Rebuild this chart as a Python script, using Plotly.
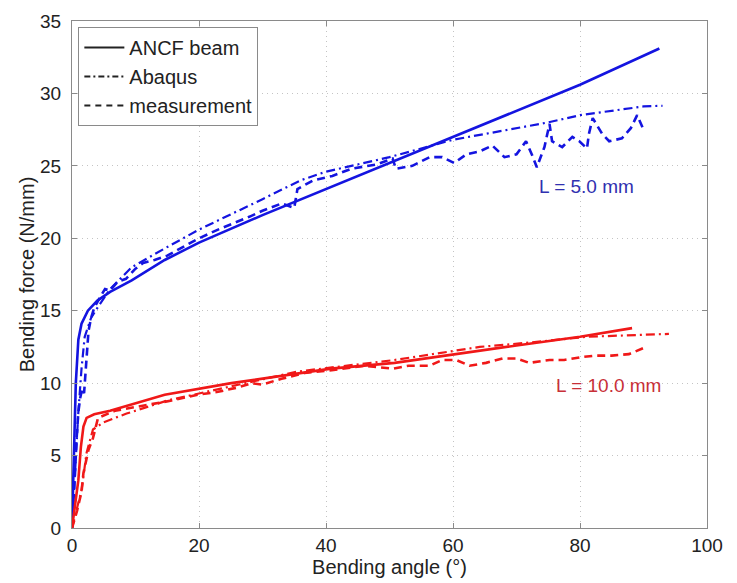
import plotly.graph_objects as go

# ---- L = 5.0 mm (blue) ----
b_ancf_x = [0, 0.3, 0.6, 1.0, 1.5, 2.5, 4.0, 6.0, 9.4, 14.6, 20, 30, 40, 50, 60, 70, 80, 92.5]
b_ancf_y = [0, 5, 10, 13, 14.1, 15.0, 15.7, 16.3, 17.1, 18.5, 19.7, 21.6, 23.4, 25.2, 27.0, 28.8, 30.6, 33.1]

b_abq_x = [0, 0.5, 1.0, 1.5, 2.0, 3.0, 4.0, 6.0, 9.4, 14.6, 20, 30, 36, 40, 50, 60, 70, 75, 80, 85, 90, 93]
b_abq_y = [0, 4, 8, 11, 13.2, 14.5, 15.2, 16.5, 18.0, 19.3, 20.6, 22.7, 24.0, 24.6, 25.6, 26.8, 27.6, 28.0, 28.5, 28.8, 29.1, 29.15]

b_mea_x = [0, 0.3, 0.5, 0.7, 1.0, 1.3, 1.6, 1.9, 2.1, 2.3, 2.6, 3.0, 3.5, 4.5, 5.2, 6.0, 7.2, 8.5, 10, 11.2,
           13, 15, 18, 20, 23, 25.3, 28, 30, 33, 35, 35.5, 38, 41, 44, 48, 50.5, 51, 53.6, 56.3, 58.3,
           60.2, 62.1, 64.2, 66.2, 68.1, 70, 71.5, 72.5, 73.2, 74.4, 75.2, 75.6, 77.2, 78.8, 79.9, 81.1,
           81.4, 82, 83.5, 84.6, 86.6, 88, 89, 90.1]
b_mea_y = [0, 2, 4, 6, 8, 9, 9.6, 9.3, 10.5, 12, 13.6, 14.5, 15.2, 16.0, 16.5, 16.4, 17.0, 17.2, 17.9, 18.3,
           18.5, 18.8, 19.5, 20.0, 20.6, 21.0, 21.5, 21.9, 22.4, 22.1, 23.4, 24.0, 24.3, 24.8, 25.1, 25.5, 24.8, 25.0, 25.6, 25.6,
           25.2, 25.8, 26.0, 26.4, 25.6, 25.8, 26.7, 25.7, 24.9, 26.3, 27.9, 26.7, 26.3, 27.0, 26.7, 26.2,
           27.2, 28.3, 27.2, 26.7, 26.9, 27.6, 28.5, 27.4]

# ---- L = 10.0 mm (red) ----
r_ancf_x = [0, 1.0, 1.4, 1.8, 2.3, 3.5, 6.0, 10.7, 14.6, 25.1, 40.8, 50.8, 60, 70, 80, 88.2]
r_ancf_y = [0, 3.3, 5.6, 7.0, 7.6, 7.85, 8.1, 8.7, 9.2, 10.0, 11.0, 11.4, 12.0, 12.6, 13.2, 13.8]

r_abq_x = [0, 1.5, 2.3, 3.3, 5.0, 8.6, 15, 25, 35.5, 50.8, 64.2, 72, 81, 94]
r_abq_y = [0, 2.6, 5.2, 6.8, 7.3, 7.9, 8.8, 9.8, 10.8, 11.6, 12.5, 12.8, 13.2, 13.4]

r_mea_x = [0, 0.8, 1.5, 1.8, 2.2, 2.6, 3.3, 4.1, 6.8, 12, 15.7, 19.8, 23, 26.1, 28.3, 29.9, 33, 36.6, 40.9,
           46.1, 50.5, 53, 56.3, 58.3, 60.5, 62.6, 65.2, 67.8, 70, 72, 75.2, 77.5, 80.3, 82.5, 85, 87.7, 90.4]
r_mea_y = [0, 1.2, 2.5, 3.8, 4.6, 5.4, 6.2, 7.6, 8.1, 8.5, 8.8, 9.2, 9.4, 9.7, 10.0, 9.9, 10.3, 10.7, 10.9,
           11.2, 11.0, 11.2, 11.2, 11.6, 11.6, 11.2, 11.4, 11.7, 11.7, 11.4, 11.6, 11.6, 11.8, 11.9, 11.9, 12.0, 12.5]

legend_names = ["ANCF beam", "Abaqus", "measurement"]
x_ticks = [0, 20, 40, 60, 80, 100]
y_ticks = [0, 5, 10, 15, 20, 25, 30, 35]

BLUE = "#1414e0"
RED = "#f01818"
DASH = "8px,5px"
DASHDOT = "9px,4px,2px,4px"

fig = go.Figure()

def add(x, y, color, dash, width=2.6):
    fig.add_trace(go.Scatter(x=x, y=y, mode="lines", showlegend=False,
                             line=dict(color=color, width=width, dash=dash), hoverinfo="skip"))

add(b_abq_x, b_abq_y, BLUE, DASHDOT, 2.2)
add(b_mea_x, b_mea_y, BLUE, DASH)
add(b_ancf_x, b_ancf_y, BLUE, "solid")
add(r_abq_x, r_abq_y, RED, DASHDOT, 2.2)
add(r_mea_x, r_mea_y, RED, DASH)
add(r_ancf_x, r_ancf_y, RED, "solid")

for name, dash in zip(legend_names, ["solid", "6px,3px,2px,3px", "6px,5px"]):
    fig.add_trace(go.Scatter(x=[None], y=[None], mode="lines", name=name,
                             line=dict(color="#222222", width=2, dash=dash)))

fig.add_annotation(x=81, y=23.6, text="L = 5.0 mm", showarrow=False,
                   font=dict(size=19, color="#3030b0", family="Liberation Sans, Arial"))
fig.add_annotation(x=84.5, y=9.85, text="L = 10.0 mm", showarrow=False,
                   font=dict(size=19, color="#c83038", family="Liberation Sans, Arial"))

axis_common = dict(showline=True, linecolor="#8a8a8a", linewidth=1, mirror="ticks",
                   ticks="inside", ticklen=5, tickcolor="#8a8a8a",
                   showgrid=True, gridcolor="#c4c4c4", griddash="1px,4px", gridwidth=1,
                   zeroline=False, tickfont=dict(size=19, color="#222"), automargin=False)

fig.update_xaxes(range=[0, 100], tickvals=x_ticks, title=dict(text="Bending angle (°)", standoff=0,
                 font=dict(size=20, color="#222")), **axis_common)
fig.update_yaxes(range=[0, 35], tickvals=y_ticks, ticklabelstandoff=6,
                 title=dict(text="Bending force (N/mm)", standoff=0,
                 font=dict(size=20, color="#222")), **axis_common)

fig.update_layout(
    width=737, height=583,
    margin=dict(l=72, r=30, t=21, b=55),
    paper_bgcolor="white", plot_bgcolor="white",
    font=dict(family="Liberation Sans, Arial", color="#222"),
    legend=dict(x=0.01, y=0.988, xanchor="left", yanchor="top",
                bgcolor="white", bordercolor="#8a8a8a", borderwidth=1,
                font=dict(size=20, color="#222"), tracegroupgap=0,
                itemwidth=40),
)

fig.write_html("out.html", config={"displayModeBar": False},
               post_script="document.body.style.margin='0';document.body.style.overflow='hidden';")
